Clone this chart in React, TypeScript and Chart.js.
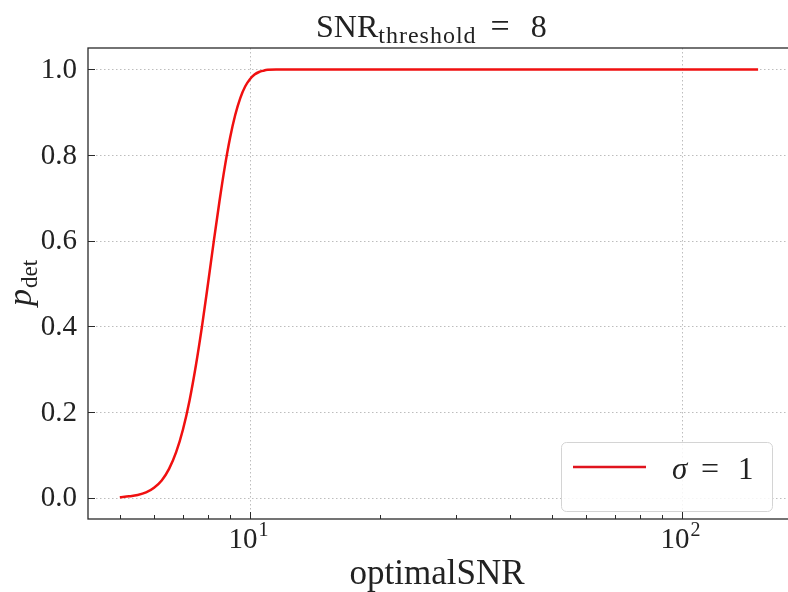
import React, { useEffect, useRef } from "react";
import { Chart, registerables } from "chart.js";

Chart.register(...registerables);

// optimal SNR values (x) and detection probability (y)
const optimalSNR = [
  5, 5.25, 5.5, 5.75, 6, 6.25, 6.5, 6.75, 7, 7.25, 7.5, 7.75, 8, 8.25, 8.5, 8.75,
  9, 9.25, 9.5, 9.75, 10, 10.25, 10.5, 10.75, 11, 11.5, 12, 13, 15, 20, 30, 50, 80, 100, 150,
];
const pDet = [
  0.001, 0.003, 0.006, 0.012, 0.023, 0.04, 0.067, 0.106, 0.159, 0.227, 0.309, 0.401, 0.5,
  0.599, 0.691, 0.773, 0.841, 0.894, 0.933, 0.96, 0.977, 0.988, 0.994, 0.997, 0.999, 1.0,
  1.0, 1.0, 1.0, 1.0, 1.0, 1.0, 1.0, 1.0, 1.0,
];
const seriesSymbol = "σ";
const seriesValue = "1";
const yTicks = [0, 0.2, 0.4, 0.6, 0.8, 1.0];
const yTickLabels = ["0.0", "0.2", "0.4", "0.6", "0.8", "1.0"];
const xMajorTicks = [10, 100];
const xMajorExponents = ["1", "2"];
const xMinorTicks = [5, 6, 7, 8, 9, 20, 30, 40, 50, 60, 70, 80, 90];

const SERIF = '"Liberation Serif", "DejaVu Serif", serif';

const decorPlugin = {
  id: "decor",
  beforeDatasetsDraw(chart: any) {
    const { ctx, chartArea: a, scales } = chart;
    const xs = scales.x;
    const ys = scales.y;
    ctx.save();
    ctx.strokeStyle = "#bdbdbd";
    ctx.lineWidth = 1;
    ctx.setLineDash([1.5, 2.5]);
    for (const v of xMajorTicks) {
      const px = Math.round(xs.getPixelForValue(v)) + 0.5;
      ctx.beginPath();
      ctx.moveTo(px, a.top);
      ctx.lineTo(px, a.bottom);
      ctx.stroke();
    }
    for (const v of yTicks) {
      const py = Math.round(ys.getPixelForValue(v)) + 0.5;
      ctx.beginPath();
      ctx.moveTo(a.left, py);
      ctx.lineTo(a.right, py);
      ctx.stroke();
    }
    ctx.restore();
  },
  afterDraw(chart: any) {
    const { ctx, chartArea: a, scales } = chart;
    const xs = scales.x;
    const ys = scales.y;
    ctx.save();
    ctx.setLineDash([]);
    // frame
    ctx.strokeStyle = "#2a2a2a";
    ctx.lineWidth = 1.3;
    ctx.strokeRect(a.left, a.top, a.right - a.left, a.bottom - a.top);
    // ticks
    ctx.lineWidth = 1;
    for (const v of yTicks) {
      const py = Math.round(ys.getPixelForValue(v)) + 0.5;
      ctx.beginPath();
      ctx.moveTo(a.left, py);
      ctx.lineTo(a.left + 7, py);
      ctx.stroke();
    }
    for (const v of xMajorTicks) {
      const px = Math.round(xs.getPixelForValue(v)) + 0.5;
      ctx.beginPath();
      ctx.moveTo(px, a.bottom);
      ctx.lineTo(px, a.bottom - 7);
      ctx.stroke();
    }
    for (const v of xMinorTicks) {
      const px = Math.round(xs.getPixelForValue(v)) + 0.5;
      ctx.beginPath();
      ctx.moveTo(px, a.bottom);
      ctx.lineTo(px, a.bottom - 4);
      ctx.stroke();
    }
    // y tick labels
    ctx.fillStyle = "#222";
    ctx.font = `29px ${SERIF}`;
    ctx.textAlign = "right";
    ctx.textBaseline = "middle";
    yTicks.forEach((v, i) => {
      ctx.fillText(yTickLabels[i], a.left - 11, ys.getPixelForValue(v) + 1);
    });
    // x tick labels 10^n
    ctx.textBaseline = "alphabetic";
    ctx.textAlign = "left";
    xMajorTicks.forEach((v, i) => {
      const px = xs.getPixelForValue(v);
      ctx.font = `29px ${SERIF}`;
      const w1 = ctx.measureText("10").width;
      ctx.font = `20px ${SERIF}`;
      const w2 = ctx.measureText(xMajorExponents[i]).width;
      const x0 = px - (w1 + w2) / 2 - 2;
      ctx.font = `29px ${SERIF}`;
      ctx.fillText("10", x0, a.bottom + 29);
      ctx.font = `20px ${SERIF}`;
      ctx.fillText(xMajorExponents[i], x0 + w1 + 1, a.bottom + 17);
    });
    // x axis label
    const cx = (a.left + a.right) / 2;
    ctx.font = `35px ${SERIF}`;
    ctx.textAlign = "center";
    ctx.fillText("optimalSNR", cx - 2, 584);
    // title: SNR_threshold = 8
    {
      ctx.textAlign = "left";
      let x = 316;
      ctx.font = `32px ${SERIF}`;
      ctx.fillText("SNR", x, 37);
      x += ctx.measureText("SNR").width;
      ctx.font = `24px ${SERIF}`;
      (ctx as any).letterSpacing = "1px";
      ctx.fillText("threshold", x, 43);
      x += ctx.measureText("threshold").width;
      (ctx as any).letterSpacing = "0px";
      x += 14;
      ctx.font = `34px ${SERIF}`;
      ctx.fillText("=", x, 37);
      x += ctx.measureText("=").width + 21;
      ctx.font = `32px ${SERIF}`;
      ctx.fillText("8", x, 37);
    }
    // y axis label p_det
    {
      ctx.save();
      ctx.translate(31, (a.top + a.bottom) / 2);
      ctx.rotate(-Math.PI / 2);
      ctx.font = `italic 34px ${SERIF}`;
      const wp = ctx.measureText("p").width;
      ctx.font = `23px ${SERIF}`;
      const wd = ctx.measureText("det").width;
      const x0 = -(wp + wd) / 2;
      ctx.textAlign = "left";
      ctx.font = `italic 34px ${SERIF}`;
      ctx.fillText("p", x0, 0);
      ctx.font = `23px ${SERIF}`;
      ctx.fillText("det", x0 + wp + 1, 6);
      ctx.restore();
    }
    // legend
    {
      const lx = 561, ly = 442, lw = 211, lh = 69;
      ctx.beginPath();
      ctx.roundRect(lx + 0.5, ly + 0.5, lw, lh, 5);
      ctx.fillStyle = "rgba(255,255,255,0.85)";
      ctx.fill();
      ctx.strokeStyle = "#d4d4d4";
      ctx.lineWidth = 1;
      ctx.stroke();
      ctx.strokeStyle = "#e0141e";
      ctx.lineWidth = 2.5;
      ctx.beginPath();
      ctx.moveTo(573, 467);
      ctx.lineTo(646, 467);
      ctx.stroke();
      ctx.fillStyle = "#222";
      ctx.textAlign = "left";
      ctx.font = `italic 31px ${SERIF}`;
      ctx.fillText(seriesSymbol, 672, 479);
      ctx.font = `32px ${SERIF}`;
      ctx.fillText("=", 701, 479);
      ctx.font = `31px ${SERIF}`;
      ctx.fillText(seriesValue, 738, 479);
    }
    ctx.restore();
  },
};

export default function App() {
  const ref = useRef<HTMLCanvasElement | null>(null);
  useEffect(() => {
    if (!ref.current) return;
    const chart = new Chart(ref.current, {
      type: "line",
      data: {
        datasets: [
          {
            label: `${seriesSymbol} = ${seriesValue}`,
            data: optimalSNR.map((x, i) => ({ x, y: pDet[i] })),
            borderColor: "#f01010",
            borderWidth: 2.5,
            pointRadius: 0,
            fill: false,
            cubicInterpolationMode: "monotone",
          },
        ],
      },
      options: {
        animation: false,
        responsive: false,
        devicePixelRatio: 1,
        layout: { padding: { left: 88, top: 48, right: 10, bottom: 73 } },
        plugins: { legend: { display: false }, tooltip: { enabled: false }, title: { display: false } },
        scales: {
          x: {
            type: "logarithmic",
            min: 4.22,
            max: 177.8,
            ticks: { display: false },
            grid: { display: false, drawTicks: false },
            border: { display: false },
          },
          y: {
            type: "linear",
            min: -0.05,
            max: 1.05,
            ticks: { display: false },
            grid: { display: false, drawTicks: false },
            border: { display: false },
          },
        },
      },
      plugins: [decorPlugin],
    });
    return () => chart.destroy();
  }, []);
  return (
    <div
      style={{
        position: "fixed",
        left: 0,
        top: 0,
        width: 788,
        height: 592,
        overflow: "hidden",
        background: "#fff",
      }}
    >
      <canvas ref={ref} width={800} height={592} style={{ display: "block" }} />
    </div>
  );
}
